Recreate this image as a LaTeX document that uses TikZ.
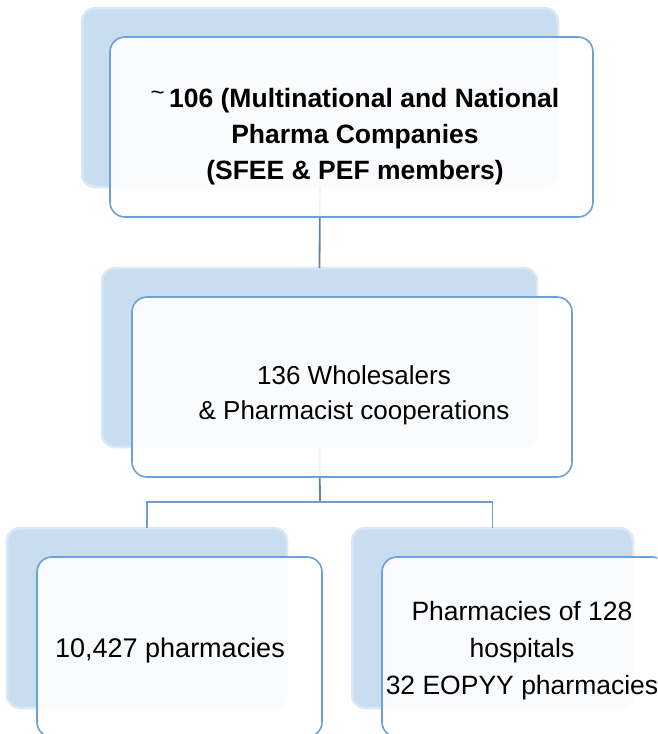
\documentclass[tikz,border=0pt]{standalone}
\usepackage{fontspec}
\setmainfont{Liberation Sans}
\definecolor{backfill}{RGB}{201,221,240}
\definecolor{backrim}{RGB}{218,232,246}
\definecolor{frontline}{RGB}{110,160,216}
\definecolor{conngray}{RGB}{106,129,155}
\definecolor{connblue}{RGB}{112,155,205}
\tikzset{
  backbox/.style={rectangle, rounded corners=13pt, fill=backfill, draw=backrim, line width=2.5pt, inner sep=0pt, outer sep=0pt},
  frontbox/.style={rectangle, rounded corners=15pt, fill=white, fill opacity=0.9, draw=frontline, draw opacity=1, line width=1.6pt, inner sep=0pt, outer sep=0pt},
  boxtext/.style={align=center, inner sep=0pt, text=black},
  connA/.style={draw=conngray, line width=1.8pt},
  connB/.style={draw=connblue, line width=1.4pt}
}
\begin{document}
\begin{tikzpicture}[x=1pt,y=-1pt]
\useasboundingbox (0,0) rectangle (657,734);
\clip (0,0) rectangle (657,734);
% back boxes
\node[backbox, minimum width=476pt, minimum height=179pt] (b1) at (320,97.5) {};
\node[backbox, minimum width=435pt, minimum height=179pt] (b2) at (319.5,357.5) {};
\node[backbox, minimum width=280pt, minimum height=180pt] (b3) at (147,618) {};
\node[backbox, minimum width=281pt, minimum height=180pt] (b4) at (492.5,618) {};
% connectors
\coordinate (j) at (320,502);
\draw[connA] (b1.south) -- (b2.north);
\draw[connA] (b2.south) -- (j);
\draw[connB] (j) -| (b3.north);
\draw[connB] (j) -| (b4.north);
% front boxes
\node[frontbox, minimum width=483pt, minimum height=180pt] (f1) at (351.5,127) {};
\node[frontbox, minimum width=440pt, minimum height=180pt] (f2) at (352,387) {};
\node[frontbox, minimum width=285pt, minimum height=180pt] (f3) at (179.5,647) {};
\node[frontbox, minimum width=285pt, minimum height=180pt] (f4) at (524.5,647) {};
% texts
\node[boxtext, font=\fontsize{26.5}{36}\selectfont\bfseries] (t1) at (355,137)
  {\raisebox{0.28em}{\fontsize{24}{24}\selectfont\mdseries\textasciitilde}\,106 (Multinational and National\\Pharma Companies\\(SFEE \& PEF members)};
\node[boxtext, font=\fontsize{26}{35}\selectfont] (t2) at (354,395)
  {136 Wholesalers\\\& Pharmacist cooperations};
\node[boxtext, font=\fontsize{27}{37}\selectfont] (t3) at (170,651) {10,427 pharmacies};
\node[boxtext, font=\fontsize{26.5}{37}\selectfont] (t4) at (522,651)
  {Pharmacies of 128\\hospitals\\32 EOPYY pharmacies};
\end{tikzpicture}
\end{document}
